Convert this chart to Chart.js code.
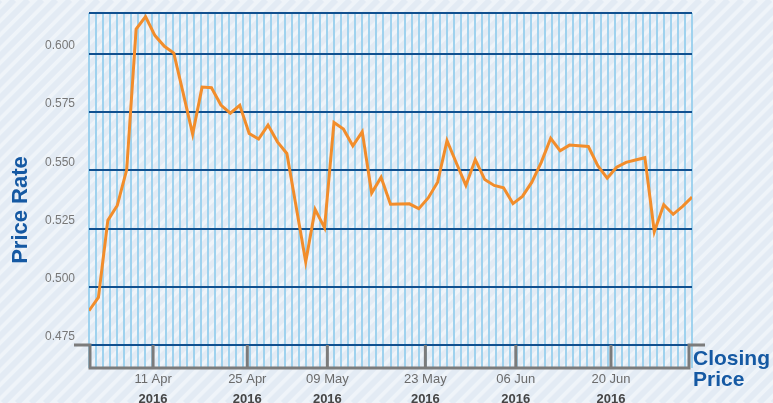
<!DOCTYPE html>
<html>
<head>
<meta charset="utf-8">
<script src="https://cdn.jsdelivr.net/npm/chart.js@4.4.0/dist/chart.umd.min.js"></script>
<style>
  html, body { margin: 0; padding: 0; background: #eef3f8; }
  #wrap { width: 773px; height: 403px; }
</style>
</head>
<body>
<div id="wrap"><canvas id="priceChart" width="773" height="403"></canvas></div>
<script>
        // Closing price, one value per trading day
        const closePrice = [
            0.4897, 0.4954, 0.5285, 0.5349, 0.5502, 0.6106, 0.6160, 0.6078, 0.6032, 0.6003,
            0.5830, 0.5655, 0.5857, 0.5854, 0.5780, 0.5745, 0.5779, 0.5658, 0.5634, 0.5694,
            0.5622, 0.5572, 0.5340, 0.5107, 0.5332, 0.5253, 0.5705, 0.5677, 0.5605, 0.5665,
            0.5402, 0.5470, 0.5354, 0.5355, 0.5356, 0.5335, 0.5381, 0.5449, 0.5627, 0.5530,
            0.5435, 0.5546, 0.5460, 0.5435, 0.5425, 0.5357, 0.5388, 0.5449, 0.5534, 0.5637,
            0.5584, 0.5608, 0.5605, 0.5602, 0.5520, 0.5466, 0.5513, 0.5534, 0.5544, 0.5554,
            0.5236, 0.5352, 0.5311, 0.5345, 0.5385
        ];

        // Date ticks (position in trading-day index)
        const tickIndex = [6.8, 16.8, 25.3, 35.7, 45.3, 55.4];
        const tickLabels = ['11 Apr', '25 Apr', '09 May', '23 May', '06 Jun', '20 Jun'];
        const tickYears = ['2016', '2016', '2016', '2016', '2016', '2016'];

        // Price axis
        const yTicks = [0.475, 0.500, 0.525, 0.550, 0.575, 0.600];
        const yMin = 0.475;
        const yMax = 0.6175;

        const seriesName = 'Closing Price';
        const axisTitle = 'Price Rate';

        const FONT = '"Liberation Sans", Arial, sans-serif';
        const DARK_BLUE = '#11508f';
        const TEXT_BLUE = '#1559a3';
        const LIGHT_BLUE = '#9fd2ee';
        const FRAME_GRAY = '#7b7b7b';
        const lastIndex = closePrice.length - 1;

        // no extra label padding around the plot
        function noPadding(scale) {
            scale.paddingTop = 0;
            scale.paddingBottom = 0;
            scale.paddingLeft = 0;
            scale.paddingRight = 0;
        }

        // Striped background
        const backgroundPlugin = {
            id: 'stripes',
            beforeDraw(chart) {
                const { ctx, width, height } = chart;
                ctx.save();
                ctx.fillStyle = '#eff4f9';
                ctx.fillRect(0, 0, width, height);
                ctx.strokeStyle = 'rgba(222, 231, 242, 0.7)';
                ctx.lineWidth = 6;
                for (let s = -height; s < width + height; s += 14) {
                    ctx.beginPath();
                    ctx.moveTo(s, height);
                    ctx.lineTo(s + height, 0);
                    ctx.stroke();
                }
                ctx.restore();
            }
        };

        // Gray frame under the plot, axis title and series label
        const framePlugin = {
            id: 'frame',
            afterDatasetsDraw(chart) {
                const { ctx, chartArea: ca, scales } = chart;
                const band = scales.xg.height;
                ctx.save();
                ctx.strokeStyle = FRAME_GRAY;
                ctx.lineWidth = 3;
                ctx.beginPath();
                ctx.moveTo(ca.left - 15, ca.bottom);
                ctx.lineTo(ca.left + 1, ca.bottom);
                ctx.lineTo(ca.left + 1, ca.bottom + band);
                ctx.lineTo(ca.right - 3, ca.bottom + band);
                ctx.lineTo(ca.right - 3, ca.bottom);
                ctx.lineTo(ca.right + 13, ca.bottom);
                ctx.stroke();
                scales.x.ticks.forEach(t => {
                    const px = scales.x.getPixelForValue(t.value);
                    ctx.beginPath();
                    ctx.moveTo(px, ca.bottom);
                    ctx.lineTo(px, ca.bottom + band);
                    ctx.stroke();
                });

                ctx.fillStyle = TEXT_BLUE;
                ctx.font = 'bold 21px ' + FONT;
                ctx.textAlign = 'left';
                ctx.textBaseline = 'alphabetic';
                const words = seriesName.split(' ');
                ctx.fillText(words[0], ca.right + 1, 365);
                ctx.fillText(words[1], ca.right + 1, 386);

                ctx.font = 'bold 22px ' + FONT;
                ctx.translate(21, 210);
                ctx.rotate(-Math.PI / 2);
                ctx.textAlign = 'center';
                ctx.textBaseline = 'middle';
                ctx.fillText(axisTitle, 0, 0);
                ctx.restore();
            }
        };

        const ctx = document.getElementById('priceChart').getContext('2d');
        new Chart(ctx, {
            type: 'line',
            data: {
                datasets: [{
                    label: seriesName,
                    xAxisID: 'x',
                    yAxisID: 'y',
                    data: closePrice.map((v, i) => ({ x: i, y: v })),
                    borderColor: '#f28d2b',
                    borderWidth: 3,
                    pointRadius: 0,
                    tension: 0,
                    fill: false
                }]
            },
            options: {
                responsive: false,
                animation: false,
                devicePixelRatio: 1,
                layout: {
                    padding: { top: 13, right: 81, left: 0, bottom: 0 }
                },
                scales: {
                    xg: {
                        type: 'linear',
                        position: 'bottom',
                        weight: 0,
                        min: 0,
                        max: 86,
                        afterBuildTicks: (scale) => {
                            const t = [];
                            for (let i = 0; i <= 86; i++) t.push({ value: i });
                            scale.ticks = t;
                        },
                        afterFit: (scale) => { scale.height = 23; noPadding(scale); },
                        grid: {
                            color: LIGHT_BLUE,
                            lineWidth: 2,
                            tickLength: 23
                        },
                        border: { display: false },
                        ticks: { display: false }
                    },
                    x: {
                        type: 'linear',
                        position: 'bottom',
                        weight: 1,
                        min: 0,
                        max: lastIndex,
                        afterBuildTicks: (scale) => {
                            scale.ticks = tickIndex.map(v => ({ value: v }));
                        },
                        afterFit: (scale) => { scale.height = 22; noPadding(scale); },
                        grid: { display: false },
                        border: { display: false },
                        ticks: {
                            autoSkip: false,
                            maxRotation: 0,
                            padding: -4,
                            color: '#6b6b6b',
                            font: { family: FONT, size: 13 },
                            callback: (v) => tickLabels[tickIndex.indexOf(v)]
                        }
                    },
                    xYear: {
                        type: 'linear',
                        position: 'bottom',
                        weight: 2,
                        min: 0,
                        max: lastIndex,
                        afterBuildTicks: (scale) => {
                            scale.ticks = tickIndex.map(v => ({ value: v }));
                        },
                        afterFit: (scale) => { scale.height = 13; noPadding(scale); },
                        grid: { display: false },
                        border: { display: false },
                        ticks: {
                            autoSkip: false,
                            maxRotation: 0,
                            padding: -6,
                            color: '#454545',
                            font: { family: FONT, size: 13, weight: 'bold' },
                            callback: (v) => tickYears[tickIndex.indexOf(v)]
                        }
                    },
                    y: {
                        type: 'linear',
                        min: yMin,
                        max: yMax,
                        afterBuildTicks: (scale) => {
                            scale.ticks = yTicks.concat([yMax]).map(v => ({ value: v }));
                        },
                        afterFit: (scale) => { scale.width = 89; noPadding(scale); },
                        grid: {
                            color: DARK_BLUE,
                            lineWidth: 2,
                            drawTicks: false
                        },
                        border: { display: false },
                        ticks: {
                            padding: 14,
                            labelOffset: -8,
                            color: '#777777',
                            font: { family: FONT, size: 12 },
                            callback: (v) => yTicks.some(t => Math.abs(t - v) < 1e-6) ? v.toFixed(3) : ''
                        }
                    }
                },
                plugins: {
                    legend: { display: false },
                    tooltip: { enabled: false }
                }
            },
            plugins: [backgroundPlugin, framePlugin]
        });
</script>
</body>
</html>
